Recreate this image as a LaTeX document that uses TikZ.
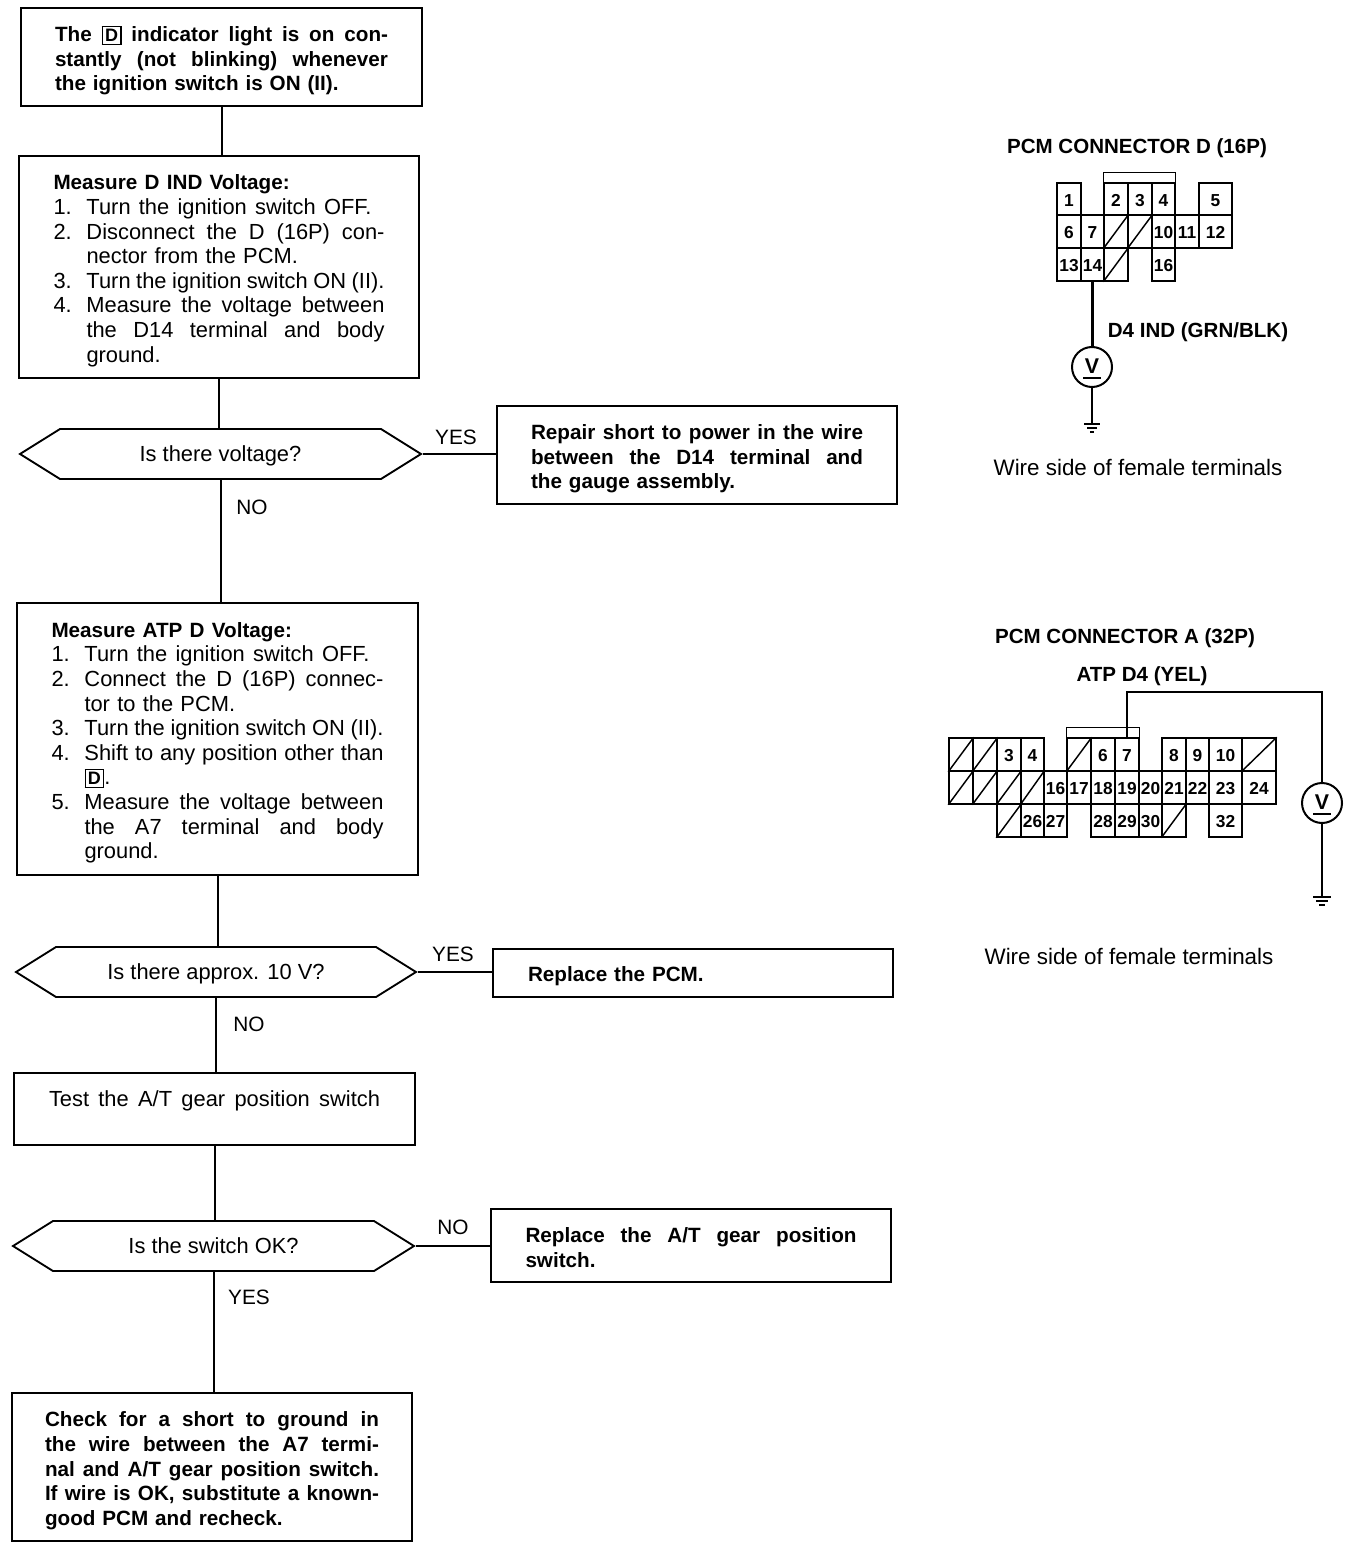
\documentclass[tikz,border=0pt]{standalone}
\usepackage{fontspec}
\setmainfont{Liberation Sans}
\usetikzlibrary{shapes.symbols}
\newcommand{\bodyf}{\fontsize{16.4pt}{18.45pt}\selectfont}
\newcommand{\boldf}{\fontsize{15.5pt}{18.45pt}\selectfont\bfseries}
\newcommand{\topgap}[1]{\leavevmode\rule{0pt}{#1}}
\newcommand{\fitl}[1]{\leavevmode\makebox[\hsize][s]{\spaceskip=0pt\xspaceskip=0pt #1}}
\newcommand{\numw}[2]{\leavevmode\makebox[24.75pt][l]{#1}\makebox[213.75pt][s]{\spaceskip=0pt\xspaceskip=0pt #2}}
\newcommand{\numj}[2]{\leavevmode\hbox to \hsize{\makebox[24.75pt][l]{#1}\makebox[\dimexpr\hsize-24.75pt\relax][s]{\spaceskip=0pt\xspaceskip=0pt #2}}}
\newcommand{\indl}[1]{\leavevmode\hspace*{24.75pt}#1}
\newcommand{\indj}[1]{\leavevmode\hbox to \hsize{\hspace*{24.75pt}\makebox[\dimexpr\hsize-24.75pt\relax][s]{\spaceskip=0pt\xspaceskip=0pt #1}}}
\newcommand{\dsym}{\setlength{\fboxsep}{1.6pt}\setlength{\fboxrule}{1pt}\smash{\fbox{\fontsize{13.5pt}{14pt}\selectfont\bfseries D}}}
\newcommand{\cel}[6]{\node[cell,minimum width={(#3-#2)*0.75pt},minimum height={(#5-#4)*0.75pt}] (#1) at ({(#2+#3)/2},{(#4+#5)/2}) {#6};}
\newcommand{\slc}[5]{\node[cell,minimum width={(#3-#2)*0.75pt},minimum height={(#5-#4)*0.75pt}] (#1) at ({(#2+#3)/2},{(#4+#5)/2}) {};\draw[thin line] (#1.south west) -- (#1.north east);}
\tikzset{
  x=0.75pt,y=-0.75pt,
  box/.style={draw=black,line width=1.5pt,inner xsep=0pt,inner ysep=0pt,align=left,font=\bodyf},
  dec/.style={draw=black,line width=1.4pt,signal,signal to=east and west,signal pointer angle=64,minimum height=37.5pt,inner sep=0pt,font=\bodyf,text height=13pt,text depth=2.5pt},
  flow/.style={draw=black,line width=1.5pt},
  lbl/.style={inner sep=0pt,font=\fontsize{15.6pt}{18pt}\selectfont},
  slbl/.style={inner sep=0pt,font=\fontsize{16.8pt}{18pt}\selectfont},
  blbl/.style={inner sep=0pt,font=\fontsize{15.4pt}{17pt}\selectfont\bfseries},
  cell/.style={draw=black,line width=1.1pt,inner sep=0pt,text height=11pt,text depth=0pt,font=\fontsize{13pt}{14pt}\selectfont\bfseries},
  thin line/.style={draw=black,line width=1.1pt},
  wire/.style={draw=black,line width=1.6pt},
  meter/.style={draw=black,circle,line width=1.5pt,minimum size=30pt,inner sep=0pt,font=\fontsize{16pt}{18pt}\selectfont\bfseries},
  gnd/.style={draw=black,line width=1.2pt}
}
\begin{document}
\begin{tikzpicture}
\useasboundingbox[fill=white] (0,0) rectangle (1360,1548);

% ---------- flow boxes
\node[box,font=\boldf,text width=249.75pt,minimum width=300.75pt,minimum height=73.5pt] (b1) at (221.5,57) {%
\topgap{17pt}\fitl{The \dsym{} indicator light is on con-}\\
\fitl{stantly (not blinking) whenever}\\
the ignition switch is ON (II).};

\node[box,text width=248.25pt,minimum width=300pt,minimum height=166.5pt] (b2) at (219,267) {%
\topgap{17pt}{\boldf Measure D IND Voltage:}\\
\numw{1.}{Turn the ignition switch OFF.}\\
\numj{2.}{Disconnect the D (16P) con-}\\
\indl{nector from the PCM.}\\
\numj{3.}{Turn the ignition switch ON (II).}\\
\numj{4.}{Measure the voltage between}\\
\indj{the D14 terminal and body}\\
\indl{ground.}};

\node[dec,minimum width=300.75pt] (h1) at (220.5,454) {Is there voltage?};

\node[box,font=\boldf,text width=249pt,minimum width=300pt,minimum height=73.5pt] (b3) at (697,455) {%
\topgap{17pt}\fitl{Repair short to power in the wire}\\
\fitl{between the D14 terminal and}\\
the gauge assembly.};

\node[box,text width=249pt,minimum width=300.75pt,minimum height=204pt] (b4) at (217.5,739) {%
\topgap{17pt}{\boldf Measure ATP D Voltage:}\\
\numw{1.}{Turn the ignition switch OFF.}\\
\numj{2.}{Connect the D (16P) connec-}\\
\indl{tor to the PCM.}\\
\numj{3.}{Turn the ignition switch ON (II).}\\
\numj{4.}{Shift to any position other than}\\
\indl{\dsym.}\\
\numj{5.}{Measure the voltage between}\\
\indj{the A7 terminal and body}\\
\indl{ground.}};

\node[dec,minimum width=300pt] (h2) at (216,972) {Is there approx. 10 V?};

\node[box,font=\boldf,text width=247.5pt,minimum width=300pt,minimum height=36pt] (b5) at (693,973) {\topgap{15.5pt}Replace the PCM.};

\node[box,text width=248.25pt,minimum width=300.75pt,minimum height=54pt] (b6) at (214.5,1109) {\topgap{14pt}\fitl{Test the A/T gear position switch}\\\mbox{}};

\node[dec,minimum width=300.75pt] (h3) at (213.5,1246) {Is the switch OK?};

\node[box,font=\boldf,text width=248.25pt,minimum width=300pt,minimum height=54.75pt] (b7) at (691,1245.5) {%
\topgap{14pt}\fitl{Replace the A/T gear position}\\
switch.};

\node[box,font=\boldf,text width=250.5pt,minimum width=300pt,minimum height=111pt] (b8) at (212,1467) {%
\topgap{17pt}\fitl{Check for a short to ground in}\\
\fitl{the wire between the A7 termi-}\\
\fitl{nal and A/T gear position switch.}\\
\fitl{If wire is OK, substitute a known-}\\
good PCM and recheck.};

% ---------- flow connectors
\draw[flow] (b1.south) -- (b1.south |- b2.north);
\draw[flow] (b2.south) -- (b2.south |- h1.north);
\draw[flow] (h1.south) -- (h1.south |- b4.north);
\draw[flow] (h1.east) -- (b3.west |- h1.east);
\draw[flow] (b4.south) -- (b4.south |- h2.north);
\draw[flow] (h2.south) -- (h2.south |- b6.north);
\draw[flow] (h2.east) -- (b5.west |- h2.east);
\draw[flow] (b6.south) -- (b6.south |- h3.north);
\draw[flow] (h3.east) -- (b7.west |- h3.east);
\draw[flow] (h3.south) -- (h3.south |- b8.north);

% ---------- flow labels
\node[lbl] (y1) at (456,437) {YES};
\node[lbl] (n1) at (252,507) {NO};
\node[lbl] (y2) at (453,954) {YES};
\node[lbl] (n2) at (249,1024) {NO};
\node[lbl] (n3) at (453,1227) {NO};
\node[lbl] (y3) at (249,1297) {YES};

% ---------- connector D
\node[blbl] (tD) at (1137,148) {PCM CONNECTOR D (16P)};
\cel{D1}{1057}{1081}{183}{215}{1}
\cel{D2}{1104}{1128}{183}{215}{2}
\cel{D3}{1128}{1152}{183}{215}{3}
\cel{D4}{1152}{1175}{183}{215}{4}
\cel{D5}{1199}{1232}{183}{215}{5}
\cel{D6}{1057}{1081}{215}{248}{6}
\cel{D7}{1081}{1104}{215}{248}{7}
\slc{D8}{1104}{1128}{215}{248}
\slc{D9}{1128}{1152}{215}{248}
\cel{D10}{1152}{1175}{215}{248}{10}
\cel{D11}{1175}{1199}{215}{248}{11}
\cel{D12}{1199}{1232}{215}{248}{12}
\cel{D13}{1057}{1081}{248}{281}{13}
\cel{D14}{1081}{1104}{248}{281}{14}
\slc{D15}{1104}{1128}{248}{281}
\cel{D16}{1152}{1175}{248}{281}{16}
\draw[thin line] (D2.north west) -- ++(0,-10) -| (D4.north east);
\node[meter] (Vd) at (1092,367) {\raisebox{2pt}{V}};
\draw[wire] (1083,378) -- (1101,378);
\draw[wire] (D14.south) -- (D14.south |- Vd.north);
\node[blbl] (wD) at (1198,332) {D4 IND (GRN/BLK)};
\coordinate (gD) at (1092,424);
\draw[wire] (Vd.south) -- (gD);
\draw[gnd] (1084,424) -- (1100,424) (1087,428) -- (1097,428) (1090,432) -- (1094,432);
\node[slbl] (sD) at (1138,467) {Wire side of female terminals};

% ---------- connector A
\node[blbl] (tA) at (1125,638) {PCM CONNECTOR A (32P)};
\node[blbl] (wA) at (1142,676) {ATP D4 (YEL)};
\slc{A1}{949}{973}{738}{771}
\slc{A2}{973}{997}{738}{771}
\cel{A3}{997}{1021}{738}{771}{3}
\cel{A4}{1021}{1044}{738}{771}{4}
\slc{A5}{1067}{1091}{738}{771}
\cel{A6}{1091}{1115}{738}{771}{6}
\cel{A7}{1115}{1139}{738}{771}{7}
\cel{A8}{1162}{1186}{738}{771}{8}
\cel{A9}{1186}{1209}{738}{771}{9}
\cel{A10}{1209}{1242}{738}{771}{10}
\slc{A11}{1242}{1276}{738}{771}
\slc{A12}{949}{973}{771}{804}
\slc{A13}{973}{997}{771}{804}
\slc{A14}{997}{1021}{771}{804}
\slc{A15}{1021}{1044}{771}{804}
\cel{A16}{1044}{1067}{771}{804}{16}
\cel{A17}{1067}{1091}{771}{804}{17}
\cel{A18}{1091}{1115}{771}{804}{18}
\cel{A19}{1115}{1139}{771}{804}{19}
\cel{A20}{1139}{1162}{771}{804}{20}
\cel{A21}{1162}{1186}{771}{804}{21}
\cel{A22}{1186}{1209}{771}{804}{22}
\cel{A23}{1209}{1242}{771}{804}{23}
\cel{A24}{1242}{1276}{771}{804}{24}
\slc{A25}{997}{1021}{804}{837}
\cel{A26}{1021}{1044}{804}{837}{26}
\cel{A27}{1044}{1067}{804}{837}{27}
\cel{A28}{1091}{1115}{804}{837}{28}
\cel{A29}{1115}{1139}{804}{837}{29}
\cel{A30}{1139}{1162}{804}{837}{30}
\slc{A31}{1162}{1186}{804}{837}
\cel{A32}{1209}{1242}{804}{837}{32}
\draw[thin line] (A5.north west) -- ++(0,-10) -| (A7.north east);
\node[meter] (Va) at (1322,803) {\raisebox{2pt}{V}};
\draw[wire] (1313,814) -- (1331,814);
\coordinate (cA) at (1322,692);
\draw[wire] (A7.north) |- (cA) -- (Va.north);
\coordinate (gA) at (1322,897);
\draw[wire] (Va.south) -- (gA);
\draw[gnd] (1313,897) -- (1331,897) (1316,901) -- (1328,901) (1319,905) -- (1325,905);
\node[slbl] (sA) at (1129,956) {Wire side of female terminals};
\end{tikzpicture}
\end{document}
